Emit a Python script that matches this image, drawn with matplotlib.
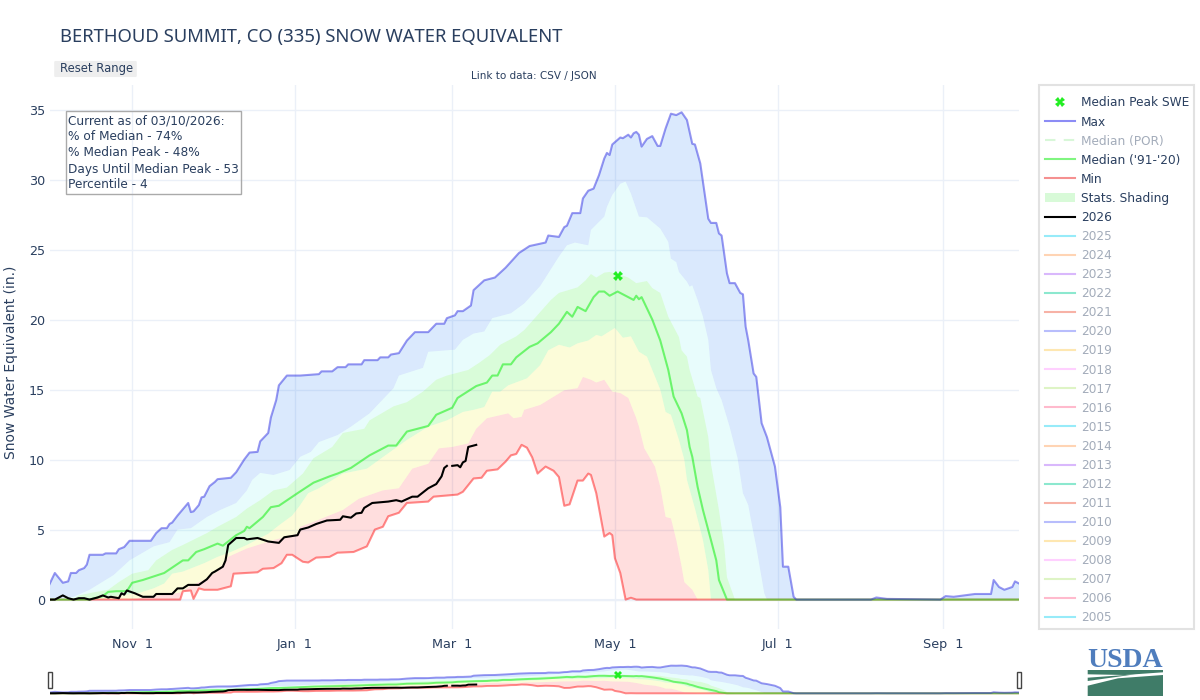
import matplotlib
matplotlib.use('Agg')
import matplotlib.pyplot as plt
from matplotlib.lines import Line2D
from matplotlib.patches import Patch, Rectangle, FancyBboxPatch, Polygon

plt.rcParams['font.family'] = ['DejaVu Sans']

# days since Oct 1 / inches of SWE
max_days = [0, 2, 5, 7, 8, 10, 11, 13, 14, 15, 20, 21, 25, 26, 28, 30, 38, 40, 42, 44, 45, 46, 48, 52, 53, 54, 56, 57, 58, 60, 62, 63, 68, 70, 73, 75, 78, 79, 82, 83, 85, 86, 89, 94, 101, 102, 106, 108, 111, 112, 117, 118, 123, 124, 127, 128, 131, 134, 137, 142, 145, 148, 149, 152, 153, 155, 158, 159, 163, 167, 171, 176, 180, 186, 187, 191, 193, 194, 196, 199, 200, 202, 204, 206, 208, 209, 210, 211, 214, 215, 217, 218, 219, 220, 221, 222, 224, 226, 228, 229, 231, 233, 235, 237, 239, 241, 242, 244, 247, 248, 250, 251, 252, 254, 255, 257, 259, 260, 261, 262, 264, 265, 267, 269, 272, 274, 275, 277, 279, 280, 308, 310, 314, 334, 336, 339, 347, 353, 354, 356, 358, 361, 362, 364]
max_vals = [1.1, 1.9, 1.2, 1.3, 1.9, 1.9, 2.1, 2.25, 2.5, 3.2, 3.2, 3.3, 3.3, 3.6, 3.75, 4.2, 4.2, 4.75, 5.1, 5.1, 5.4, 5.5, 6, 6.9, 6.25, 6.3, 6.75, 7.3, 7.35, 8.1, 8.4, 8.6, 8.7, 9.1, 10, 10.5, 10.55, 11.3, 11.9, 13, 14.25, 15.3, 16, 16, 16.1, 16.3, 16.3, 16.6, 16.6, 16.8, 16.8, 17.1, 17.1, 17.3, 17.3, 17.5, 17.6, 18.5, 19.1, 19.1, 19.7, 19.7, 20.1, 20.3, 20.6, 20.6, 21, 22.1, 22.8, 23, 23.7, 24.75, 25.25, 25.5, 26, 25.9, 26.6, 26.7, 27.6, 27.6, 28.65, 29.2, 29.35, 30.3, 31.5, 31.9, 31.75, 32.5, 33, 32.95, 33.2, 33, 33.3, 33.4, 33.2, 32.35, 32.9, 33.1, 32.4, 32.4, 33.65, 34.7, 34.6, 34.8, 34.25, 32.55, 32.5, 31.15, 27.2, 26.9, 26.9, 26.15, 26, 23.3, 22.6, 22.6, 21.9, 21.8, 19.5, 18.5, 16.15, 15.9, 12.6, 11.6, 9.5, 6.6, 2.35, 2.35, 0.2, 0, 0, 0.15, 0.05, 0, 0.25, 0.2, 0.4, 0.4, 1.4, 0.9, 0.7, 0.9, 1.3, 1.1]

med_days = [0, 15, 20, 22, 25, 29, 31, 35, 43, 50, 52, 55, 58, 63, 65, 70, 73, 74, 75, 80, 83, 86, 93, 99, 105, 108, 113, 120, 127, 130, 134, 142, 145, 151, 153, 160, 164, 166, 168, 170, 173, 175, 180, 183, 188, 191, 194, 196, 198, 201, 204, 206, 208, 210, 213, 217, 219, 220, 221, 222, 226, 229, 232, 234, 237, 239, 240, 241, 243, 245, 248, 250, 251, 254, 364]
med_vals = [0, 0, 0.25, 0.55, 0.6, 0.6, 1.2, 1.4, 1.9, 2.8, 2.8, 3.4, 3.6, 4, 3.85, 4.6, 4.9, 5.2, 5.1, 5.9, 6.6, 6.7, 7.6, 8.35, 8.8, 9, 9.4, 10.3, 11, 11, 12, 12.4, 13.2, 13.7, 14.4, 15.25, 15.5, 16, 16, 16.8, 16.8, 17.3, 18.05, 18.3, 19.1, 19.7, 20.55, 20.2, 20.9, 20.6, 21.6, 22, 22, 21.7, 22, 21.6, 21.4, 21.7, 21.45, 21.6, 20, 18.5, 16.4, 14.5, 13.3, 12.1, 10.9, 10.2, 8.05, 6.4, 4.25, 2.8, 1.4, 0, 0]

min_days = [0, 49, 50, 53, 54, 56, 58, 63, 68, 69, 78, 80, 84, 87, 89, 91, 95, 97, 100, 105, 108, 114, 119, 122, 125, 127, 131, 134, 142, 144, 153, 155, 159, 162, 164, 168, 171, 173, 175, 177, 179, 181, 183, 186, 189, 191, 193, 195, 198, 200, 202, 203, 205, 208, 210, 211, 212, 214, 216, 218, 220, 364]
min_vals = [0, 0, 0.6, 0.65, 0.05, 0.8, 0.7, 0.7, 0.95, 1.85, 1.95, 2.2, 2.25, 2.6, 3.2, 3.2, 2.7, 2.65, 3, 3.05, 3.35, 3.4, 3.8, 5, 5.2, 5.95, 6.2, 6.9, 7, 7.35, 7.5, 7.7, 8.65, 8.7, 9.2, 9.3, 9.85, 10.3, 10.4, 11.05, 10.85, 10.15, 9, 9.5, 9.2, 8.75, 6.7, 6.8, 8.5, 8.5, 9, 8.9, 7.6, 4.5, 4.75, 4.6, 2.95, 1.9, 0, 0.13, 0, 0]

p10_days = [0, 30, 49, 53, 58, 63, 67, 74, 84, 93, 94, 99, 110, 116, 125, 131, 136, 142, 146, 151, 157, 160, 164, 172, 174, 177, 178, 184, 193, 198, 200, 203, 205, 208, 211, 214, 217, 220, 221, 223, 227, 229, 231, 233, 235, 237, 238, 241, 243, 364]
p10_vals = [0, 0, 0.5, 1, 1.4, 2, 3.05, 3.65, 4.25, 4.7, 5.2, 5.55, 6.4, 7.2, 7.8, 7.95, 9.35, 9.7, 10.8, 10.9, 11.15, 12.2, 12.95, 13.3, 12.95, 13.05, 13.55, 13.9, 14.95, 15.1, 15.9, 15.7, 15.5, 15.7, 14.85, 14.75, 14.4, 12.95, 12.35, 10.8, 9.5, 8.05, 5.9, 5.8, 4.25, 2.35, 1.25, 0.7, 0, 0]

p30_days = [0, 15, 22, 29, 34, 39, 43, 46, 50, 58, 63, 68, 74, 82, 86, 91, 94, 97, 101, 110, 119, 127, 134, 142, 149, 155, 159, 163, 166, 169, 172, 179, 184, 187, 191, 195, 198, 202, 205, 207, 212, 215, 218, 221, 224, 226, 229, 231, 233, 236, 238, 239, 242, 245, 247, 248, 364]
p30_vals = [0, 0, 0.2, 0.35, 0.5, 0.8, 1.15, 1.85, 2, 2.6, 3.05, 3.4, 3.9, 4.7, 5.3, 6, 6.75, 7.6, 7.95, 9, 9.35, 10.45, 11.4, 12.35, 12.8, 13.4, 13.55, 13.75, 14.85, 14.85, 15.3, 15.8, 16.75, 17.8, 18.2, 18, 18.3, 18.5, 18.9, 18.8, 19.4, 18.7, 18.8, 17.7, 17.35, 16.4, 15, 13.4, 13.2, 11.4, 10, 8.55, 6.5, 4.25, 2.1, 0, 0]

p70_days = [0, 9, 11, 16, 22, 26, 31, 37, 40, 46, 50, 59, 63, 70, 74, 79, 84, 89, 95, 99, 106, 110, 118, 120, 129, 134, 140, 145, 149, 157, 161, 165, 169, 175, 178, 188, 191, 198, 201, 203, 205, 208, 210, 214, 217, 220, 224, 226, 229, 232, 236, 237, 239, 240, 243, 244, 247, 248, 251, 253, 254, 257, 364]
p70_vals = [0, 0, 0.3, 0.5, 0.7, 1.25, 1.85, 2.1, 2.8, 3.55, 3.9, 4.75, 5.2, 5.9, 6.5, 7.1, 7.8, 8, 9, 10.1, 10.9, 11.9, 12.2, 12.8, 13.8, 14.1, 14.85, 15.7, 16, 16.4, 16.9, 17.45, 18.2, 18.8, 19.25, 21.4, 21.9, 22.3, 22.8, 23.25, 23, 23.35, 23.4, 23.2, 23, 22.6, 22.75, 22.25, 21.9, 20.2, 18.75, 17.8, 17.35, 16.4, 14.5, 14.4, 11.6, 9.7, 6.4, 3.8, 1.6, 0, 0]

p90_days = [0, 9, 15, 24, 30, 39, 45, 48, 53, 59, 64, 70, 74, 76, 79, 84, 90, 94, 98, 101, 108, 113, 120, 129, 131, 140, 142, 152, 155, 159, 163, 166, 173, 178, 184, 191, 194, 197, 202, 203, 208, 209, 211, 214, 216, 218, 221, 224, 229, 232, 233, 235, 236, 239, 240, 241, 243, 245, 247, 248, 250, 252, 255, 258, 260, 262, 263, 265, 268, 269, 364]
p90_vals = [0, 0.2, 0.7, 1.75, 2.8, 3.8, 4.1, 5, 5.1, 5.9, 6.4, 6.9, 7.8, 8.55, 9.05, 8.9, 9.25, 10.2, 10.55, 11.25, 11.75, 12.35, 13.3, 15.1, 16, 16.55, 17.7, 17.85, 18.55, 19, 19.15, 20.1, 20.45, 21.15, 22.4, 24.5, 25.3, 25.5, 25.3, 26.4, 27.35, 28.05, 28.9, 29.7, 29.85, 29, 27.35, 27.3, 26.5, 25.55, 24.35, 24.1, 23.4, 22.7, 22.35, 22.45, 21.4, 20.2, 18.55, 16.4, 15.1, 14.25, 12.35, 10.1, 7.6, 6.75, 5.7, 3.75, 0.45, 0, 0]

# None marks the gap in the record
y2026_days = [0, 2, 5, 7, 9, 11, 13, 15, 18, 20, 22, 23, 26, 27, 28, 29, 32, 35, 39, 40, 46, 48, 50, 52, 56, 59, 61, 62, 65, 66, 67, 70, 73, 74, 78, 82, 86, 88, 93, 94, 97, 100, 104, 109, 110, 113, 115, 117, 118, 121, 127, 130, 132, 136, 138, 141, 142, 145, 147, 148, 149, 150, 151, 153, 154, 155, 156, 157, 159, 160]
y2026_vals = [0, 0, 0.3, 0.1, 0, 0.1, 0.1, 0, 0.15, 0.3, 0.15, 0.2, 0.1, 0.45, 0.35, 0.65, 0.45, 0.2, 0.2, 0.4, 0.4, 0.8, 0.8, 1.05, 1.05, 1.45, 1.9, 2, 2.35, 2.8, 3.9, 4.4, 4.4, 4.3, 4.4, 4.15, 4.05, 4.45, 4.6, 5, 5.15, 5.4, 5.65, 5.7, 5.95, 5.85, 6.15, 6.2, 6.55, 6.9, 7, 7.1, 7, 7.35, 7.35, 7.8, 7.95, 8.25, 8.8, 9.4, 9.55, None, 9.55, 9.6, 9.45, 9.8, 9.9, 10.9, 11, 11.05]
y2026_vals = [float('nan') if v is None else v for v in y2026_vals]

peak_day = [213]
peak_swe = [23.1]

tick_days = [31, 92, 151, 212, 273, 335]
tick_labels = ['Nov  1', 'Jan  1', 'Mar  1', 'May  1', 'Jul  1', 'Sep  1']
y_ticks = [0, 5, 10, 15, 20, 25, 30, 35]

hidden_years = list(range(2025, 2004, -1))
year_palette = ['#19d3f3', '#FFA15A', '#ab63fa', '#00cc96', '#EF553B', '#636efa',
                '#FECB52', '#FF97FF', '#B6E880', '#FF6692']

TEXT = '#2a3f5f'
W, H = 1200, 700


def fx(px):
    return px / W


def fy(py):
    return 1 - py / H


def band(ax, up_d, up_v, lo_d, lo_v, color, alpha):
    pts = list(zip(up_d, up_v)) + list(zip(lo_d[::-1], lo_v[::-1]))
    ax.add_patch(Polygon(pts, closed=True, facecolor=color, edgecolor='none', alpha=alpha, zorder=2))


def draw_all(ax, lw):
    band(ax, max_days, max_vals, p90_days, p90_vals, '#0a6cf5', 0.15)
    band(ax, p90_days, p90_vals, p70_days, p70_vals, '#00e5e5', 0.09)
    band(ax, p70_days, p70_vals, p30_days, p30_vals, '#00f000', 0.15)
    band(ax, p30_days, p30_vals, p10_days, p10_vals, '#eeee00', 0.15)
    band(ax, p10_days, p10_vals, min_days, min_vals, '#ff0000', 0.13)
    ax.plot(min_days, min_vals, color='#ff0000', alpha=0.45, lw=lw, zorder=3)
    ax.plot(med_days, med_vals, color='#00ee00', alpha=0.5, lw=lw, zorder=3)
    ax.plot(max_days, max_vals, color='#1a1ae0', alpha=0.45, lw=lw, zorder=3)
    ax.plot(y2026_days, y2026_vals, color='black', lw=lw, zorder=4)


fig = plt.figure(figsize=(12, 7), dpi=100)

# main plot
ax = fig.add_axes([fx(49.5), fy(629), (1019 - 49.5) / W, (629 - 85) / H])
ax.set_xlim(0, 363.5)
ax.set_ylim(-2.1, 36.75)
draw_all(ax, 1.5)
ax.plot(peak_day, peak_swe, linestyle='none', marker='X', ms=7, color='#22ee22', mew=0, zorder=5)
ax.set_xticks(tick_days)
ax.set_xticklabels(tick_labels)
ax.set_yticks(y_ticks)
ax.grid(True, color='#ebf0f8', lw=1, zorder=0)
ax.set_axisbelow(True)
ax.axhline(0, color='#ebf0f8', lw=1.5, zorder=1)
ax.tick_params(length=0, labelsize=9.2, labelcolor=TEXT)
ax.tick_params(axis='x', pad=6.5)
ax.tick_params(axis='y', pad=3.2)
for s in ax.spines.values():
    s.set_visible(False)
ax.set_ylabel('Snow Water Equivalent (in.)', fontsize=10, color=TEXT)
ax.yaxis.set_label_coords(-0.032, 0.491)

# range slider
sl = fig.add_axes([fx(49.5), fy(695), (1019 - 49.5) / W, 31 / H])
sl.set_xlim(0, 363.5)
sl.set_ylim(-2.1, 36.75)
draw_all(sl, 1.4)
sl.plot(peak_day, peak_swe, linestyle='none', marker='X', ms=6, color='#22ee22', mew=0, zorder=5)
sl.axis('off')
for px in (48, 1017):
    fig.add_artist(Rectangle((fx(px), fy(688)), 4 / W, 16 / H, transform=fig.transFigure,
                             facecolor='white', edgecolor='#444444', lw=1))

# header bits
fig.text(fx(60), fy(37), 'BERTHOUD SUMMIT, CO (335) SNOW WATER EQUIVALENT',
         fontsize=13.3, color=TEXT, va='center', family='Noto Sans')
fig.add_artist(FancyBboxPatch((fx(56), fy(76)), 79 / W, 14 / H, transform=fig.transFigure,
                              boxstyle='round,pad=0.0015', facecolor='#eeeeee', edgecolor='none'))
fig.text(fx(60), fy(68.5), 'Reset Range', fontsize=8.4, color=TEXT, va='center')
fig.text(fx(534), fy(76), 'Link to data: CSV / JSON', fontsize=7.5, color=TEXT, va='center', ha='center')

# current-status box, see-through like the original
fig.add_artist(Rectangle((fx(65.5), fy(194.5)), 175 / W, 83.5 / H, transform=fig.transFigure,
                         facecolor='none', edgecolor='#aaaaaa', lw=1, zorder=6))
status = ['Current as of 03/10/2026:', '% of Median - 74%', '% Median Peak - 48%',
          'Days Until Median Peak - 53', 'Percentile - 4']
for i, line in enumerate(status):
    t = fig.text(fx(68), fy(121 + 16 * i), line, fontsize=8.7, color=TEXT, va='center')
    t.set_zorder(7)

# legend
fig.add_artist(Rectangle((fx(1039), fy(629)), 155 / W, 544 / H, transform=fig.transFigure,
                         facecolor='white', edgecolor='#e2e2e2', lw=1.5))
handles = [
    Line2D([], [], linestyle='none', marker='X', ms=7, color='#22ee22', mew=0),
    Line2D([], [], color='#8c8cf5', lw=1.5),
    Line2D([], [], color='#d8f7d8', lw=1.5, ls=(0, (5, 4))),
    Line2D([], [], color='#80f580', lw=1.5),
    Line2D([], [], color='#f59090', lw=1.5),
    Patch(facecolor='#d8fad8', edgecolor='none'),
    Line2D([], [], color='black', lw=1.5),
]
labels = ['Median Peak SWE', 'Max', 'Median (POR)', "Median ('91-'20)", 'Min', 'Stats. Shading', '2026']
label_colors = [TEXT, TEXT, '#a3acba', TEXT, TEXT, TEXT, TEXT]
for i, yr in enumerate(hidden_years):
    handles.append(Line2D([], [], color=year_palette[i % 10], alpha=0.45, lw=1.5))
    labels.append(str(yr))
    label_colors.append('#a3acba')
leg = fig.legend(handles, labels, loc='upper left', bbox_to_anchor=(fx(1042.6), fy(94)),
                 bbox_transform=fig.transFigure, frameon=False, fontsize=8.75,
                 handlelength=2.47, handletextpad=0.48, labelspacing=0.5, borderpad=0.2,
                 borderaxespad=0)
for t, c in zip(leg.get_texts(), label_colors):
    t.set_color(c)
leg.set_zorder(8)

# USDA logo
logo = fig.add_axes([fx(1080), fy(700), 90 / W, 60 / H])
logo.set_xlim(1080, 1170)
logo.set_ylim(700, 640)
logo.axis('off')
logo.text(1125, 667, 'USDA', fontsize=20, fontweight='bold', family='Liberation Serif',
          color='#4f7dbd', ha='center', va='baseline')
green = '#3f7c68'
logo.add_patch(Polygon([(1087.7, 670), (1163, 670), (1163, 672.3), (1125, 675), (1087.7, 674.3)],
                       closed=True, facecolor=green, edgecolor='none'))
logo.add_patch(Polygon([(1087.7, 677.7), (1135, 674.3), (1087.7, 681)],
                       closed=True, facecolor=green, edgecolor='none'))
logo.add_patch(Polygon([(1087.7, 685.7), (1118, 678.3), (1163, 675), (1163, 696), (1087.7, 696)],
                       closed=True, facecolor=green, edgecolor='none'))

fig.savefig('out.png', dpi=100)
plt.close(fig)
